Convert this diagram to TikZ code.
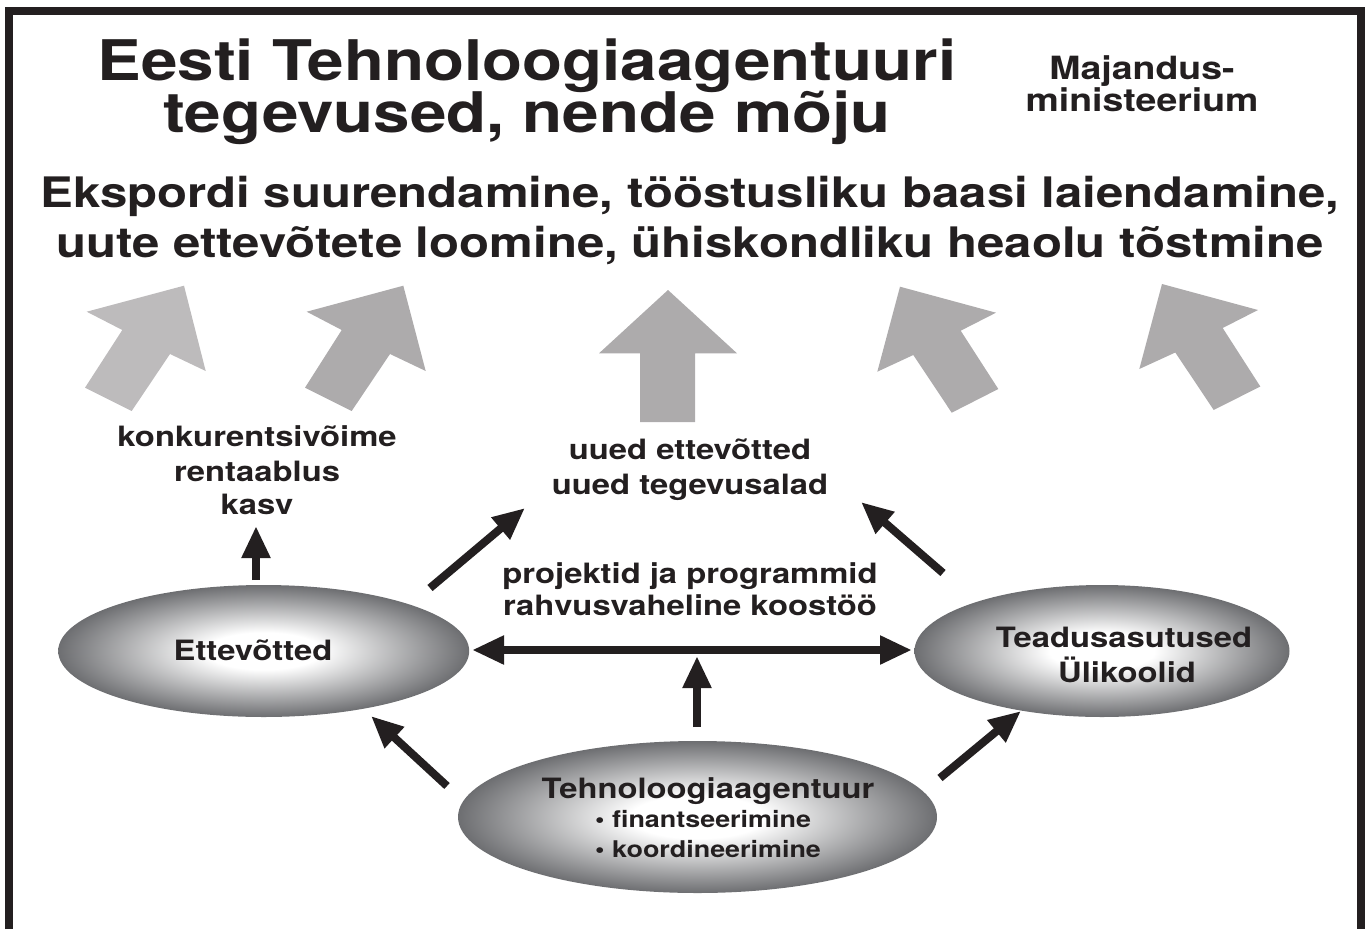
\documentclass[tikz,border=0pt]{standalone}
\usepackage{fontspec}
\setmainfont{TeX Gyre Heros}[FakeStretch=1.17]
\usetikzlibrary{arrows.meta,shapes.geometric}
\definecolor{ellgray}{HTML}{6D6E71}
\definecolor{arrgray}{HTML}{ADABAC}
\definecolor{arrgrayl}{HTML}{BDBBBC}
\definecolor{ink}{HTML}{231F20}
\pgfdeclareradialshading{ellshade}{\pgfpoint{0bp}{0bp}}{color(0bp)=(white); color(7bp)=(white); color(25bp)=(ellgray); color(50bp)=(ellgray)}
\begin{document}
\begin{tikzpicture}[x=1pt,y=-1pt,
  txt/.style={text=ink, anchor=base, inner sep=0pt, font=\bfseries\fontsize{#1}{#1}\selectfont},
  txt/.default=28,
  ell/.style={ellipse, draw=none, shading=ellshade, inner sep=0pt},
  bigarrow/.style={fill=arrgray, draw=none},
  blk/.style={draw=ink, line width=8pt, -{Triangle[length=32pt,width=27pt]}},
  blk2/.style={draw=ink, line width=8pt, {Triangle[length=32pt,width=27pt]}-{Triangle[length=32pt,width=27pt]}}
]
\useasboundingbox (0,0) rectangle (1365,929);
% frame (open at the bottom)
\draw[ink, line width=8pt] (9,929) -- (9,10.5) -- (1361,10.5) -- (1361,929);

% titles
\node[txt=56] (t1) at (527,80) {Eesti Tehnoloogiaagentuuri};
\node[txt=56] (t2) at (527,132) {tegevused, nende mõju};
\node[txt=32] (m1) at (1142,79) {Majandus-};
\node[txt=32] (m2) at (1142,111) {ministeerium};
\node[txt=42] (g1) at (690,207) {Ekspordi suurendamine, tööstusliku baasi laiendamine,};
\node[txt=42] (g2) at (690,257) {uute ettevõtete loomine, ühiskondliku heaolu tõstmine};

% big gray arrows
\fill[arrgrayl] (184,285.7) -- (205.7,371) -- (170,354) -- (131.7,411) -- (85,387.7) -- (122.3,330) -- (86.7,311.7) -- cycle;
\fill[bigarrow] (403.3,285.7) -- (425.7,371) -- (390,354) -- (351.7,411) -- (305,387.7) -- (341.7,330) -- (306.7,311.7) -- cycle;
\fill[bigarrow] (668,290) -- (737,353.3) -- (695,353.3) -- (695,422) -- (640,422) -- (640,353.3) -- (599,353.3) -- cycle;
\fill[bigarrow] (900,286.7) -- (996,312.7) -- (960.7,330.7) -- (998.3,389) -- (951.7,412.7) -- (913.3,355) -- (877.3,371.7) -- cycle;
\fill[bigarrow] (1162,284) -- (1258,310) -- (1222.7,328) -- (1260.3,386.5) -- (1213.7,410) -- (1175.3,352.5) -- (1139.3,369) -- cycle;

% labels
\node[txt] (k1) at (257,446) {konkurentsivõime};
\node[txt] (k2) at (257,481) {rentaablus};
\node[txt] (k3) at (257,514) {kasv};
\node[txt] (u1) at (690,459) {uued ettevõtted};
\node[txt] (u2) at (690,494) {uued tegevusalad};
\node[txt] (p1) at (690,583) {projektid ja programmid};
\node[txt] (p2) at (690,615) {rahvusvaheline koostöö};

% ellipses
\node[ell, minimum width=411pt, minimum height=132pt] (ette) at (263.7,651) {};
\node[ell, minimum width=375pt, minimum height=132pt] (tead) at (1102,651) {};
\node[ell, minimum width=479pt, minimum height=152pt] (tehn) at (697.5,817) {};
\node[txt=28] (ettet) at (253,660) {Ettevõtted};
\node[txt=28] (teadt1) at (1124,647) {Teadusasutused};
\node[txt=28] (teadt2) at (1127,682) {Ülikoolid};
\node[txt=28] (tehnt) at (708,798) {Tehnoloogiaagentuur};
\node[txt=23, anchor=base west] (b1) at (595,827) {• finantseerimine};
\node[txt=23, anchor=base west] (b2) at (595,857) {• koordineerimine};

% black connectors
\coordinate (a1s) at (256,580); \coordinate (a1e) at (256,526);
\coordinate (a2s) at (430,588); \coordinate (a2e) at (525,508);
\coordinate (a3s) at (943,573); \coordinate (a3e) at (861,502);
\coordinate (h1) at (472,650);  \coordinate (h2) at (912,650);
\coordinate (v1) at (697,727);  \coordinate (v2) at (697,656);
\coordinate (a6s) at (447,786); \coordinate (a6e) at (371,716);
\coordinate (a7s) at (940,778); \coordinate (a7e) at (1021,711);
\draw[blk] (a1s) -- (a1e);
\draw[blk] (a2s) -- (a2e);
\draw[blk] (a3s) -- (a3e);
\draw[blk2] (h1) -- (h2);
\draw[blk] (v1) -- (v2);
\draw[blk] (a6s) -- (a6e);
\draw[blk] (a7s) -- (a7e);
\end{tikzpicture}
\end{document}
